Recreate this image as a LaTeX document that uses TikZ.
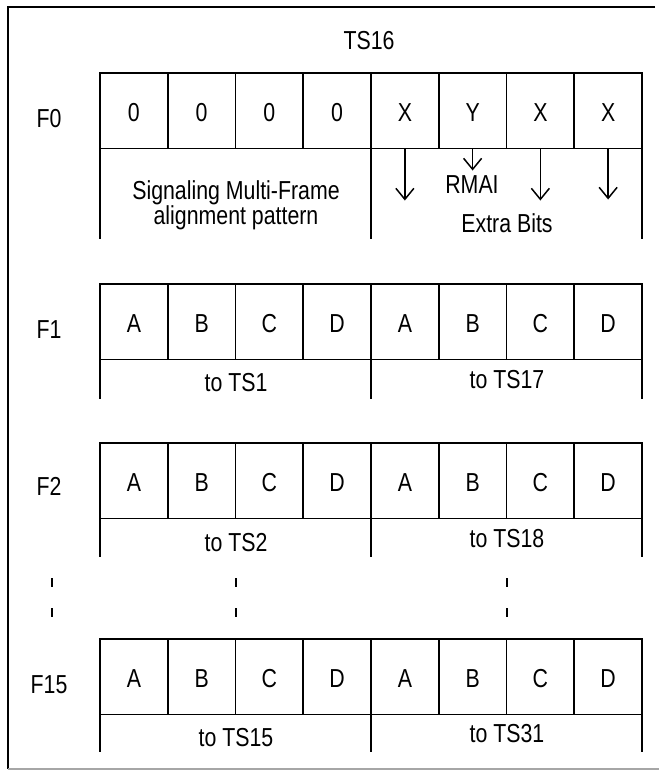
\documentclass[tikz,border=0pt]{standalone}
\usepackage{fontspec}
\setmainfont{Liberation Sans}[FakeStretch=0.82]
\usetikzlibrary{arrows.meta}
\begin{document}
\begin{tikzpicture}[x={(1pt,0)},y={(0,-1pt)},
  every node/.style={font=\fontsize{26pt}{31pt}\selectfont},
  ln/.style={line width=1.6pt},
  cell/.style={draw,line width=1.6pt,minimum width=67.75pt,minimum height=75.5pt,inner sep=0pt,outer sep=0pt,text height=21pt,text depth=0pt},
  lbl/.style={anchor=base,inner sep=0pt},
  arr/.style={line width=1.5pt,-{Straight Barb[length=11pt,width=18pt,line width=1.5pt]}},
  dots/.style={line width=2pt,dash pattern=on 9pt off 21pt}]
\useasboundingbox (0,0) rectangle (659,771);
% frame
\draw[line width=2pt] (655,7) -- (8,7) -- (8,769);
\draw[line width=2pt,gray!70] (8,768.5) -- (659,768.5);
% title
\node[lbl] (ts16) at (369,49) {TS16};
% row F0
\node[lbl] (f0) at (49,127) {F0};
\foreach \i/\t in {1/0,2/0,3/0,4/0,5/X,6/Y,7/X,8/X}
  \node[cell] (a\i) at ({100+67.75*(\i-0.5)},110.75) {\t};
\draw[ln] (a1.south west) -- ++(0,90);
\draw[ln] (a5.south west) -- ++(0,90);
\draw[ln] (a8.south east) -- ++(0,90);
\node[lbl] (sig1) at (236,199) {Signaling Multi-Frame};
\node[lbl] (sig2) at (236,224) {alignment pattern};
\draw[arr] (a5.south) -- ++(0,52);
\draw[arr] (a6.south) -- ++(0,22);
\draw[arr] (a7.south) -- ++(0,52);
\draw[arr] (a8.south) -- ++(0,51);
\node[lbl] (rmai) at (472,193) {RMAI};
\node[lbl] (extra) at (507,232) {Extra Bits};
% row F1
\node[lbl] (f1) at (49,338) {F1};
\foreach \i/\t in {1/A,2/B,3/C,4/D,5/A,6/B,7/C,8/D}
  \node[cell] (b\i) at ({100+67.75*(\i-0.5)},321.75) {\t};
\draw[ln] (b1.south west) -- ++(0,39);
\draw[ln] (b5.south west) -- ++(0,39);
\draw[ln] (b8.south east) -- ++(0,39);
\node[lbl] (ts1) at (236,391) {to TS1};
\node[lbl] (ts17) at (507,388) {to TS17};
% row F2
\node[lbl] (f2) at (49,495) {F2};
\foreach \i/\t in {1/A,2/B,3/C,4/D,5/A,6/B,7/C,8/D}
  \node[cell] (c\i) at ({100+67.75*(\i-0.5)},480.75) {\t};
\draw[ln] (c1.south west) -- ++(0,38);
\draw[ln] (c5.south west) -- ++(0,38);
\draw[ln] (c8.south east) -- ++(0,38);
\node[lbl] (ts2) at (236,551) {to TS2};
\node[lbl] (ts18) at (507,547) {to TS18};
% continuation marks
\draw[dots] (52,578) -- (52,618);
\draw[dots] (236,578) -- (236,618);
\draw[dots] (507,578) -- (507,618);
% row F15
\node[lbl] (f15) at (49,693) {F15};
\foreach \i/\t in {1/A,2/B,3/C,4/D,5/A,6/B,7/C,8/D}
  \node[cell] (d\i) at ({100+67.75*(\i-0.5)},676.75) {\t};
\draw[ln] (d1.south west) -- ++(0,37);
\draw[ln] (d5.south west) -- ++(0,37);
\draw[ln] (d8.south east) -- ++(0,37);
\node[lbl] (ts15) at (236,746) {to TS15};
\node[lbl] (ts31) at (507,742) {to TS31};
\end{tikzpicture}
\end{document}
